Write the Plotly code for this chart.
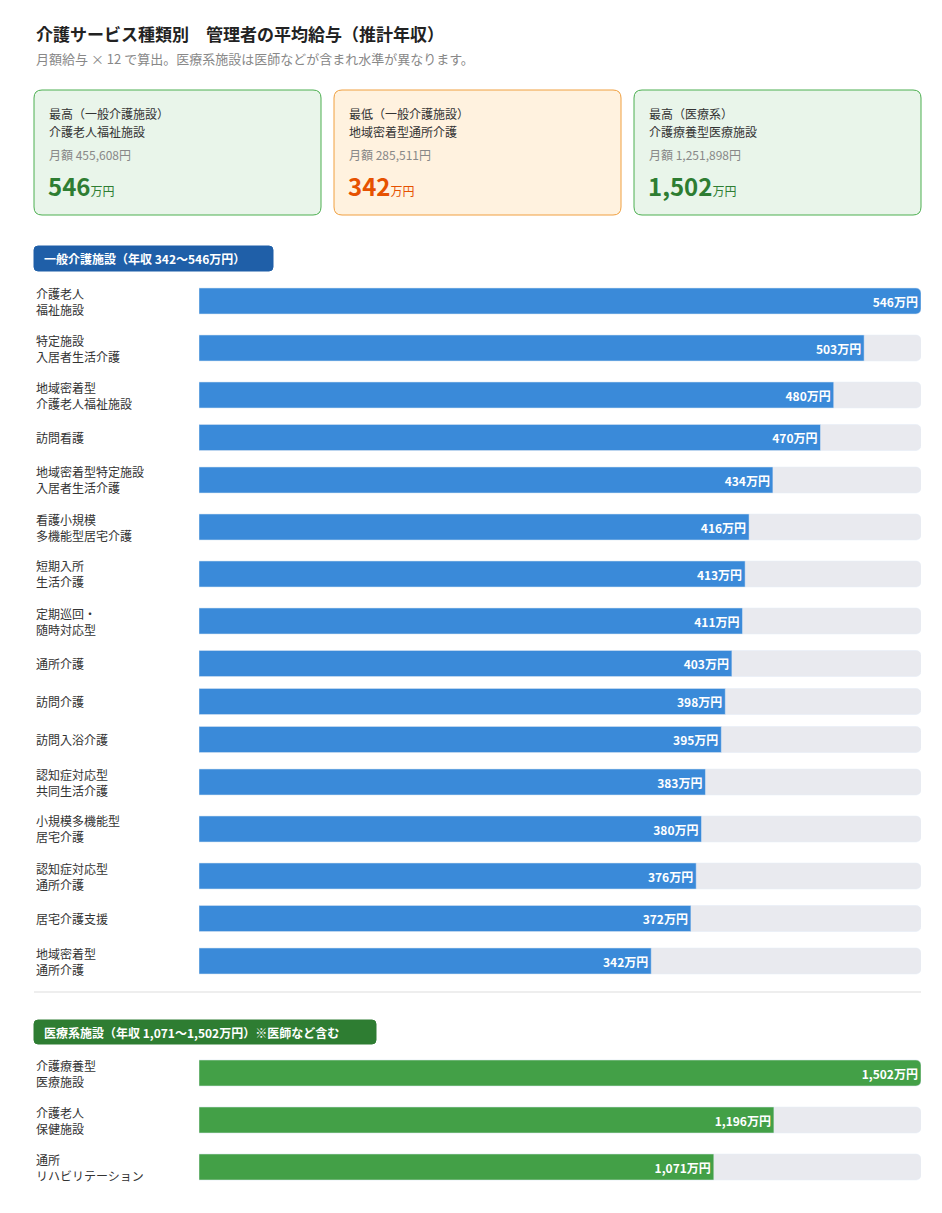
import plotly.graph_objects as go

W, H = 942, 1213
FONT = "Noto Sans CJK JP"

general_labels = ["介護老人<br>福祉施設", "特定施設<br>入居者生活介護", "地域密着型<br>介護老人福祉施設", "訪問看護",
                  "地域密着型特定施設<br>入居者生活介護", "看護小規模<br>多機能型居宅介護", "短期入所<br>生活介護",
                  "定期巡回・<br>随時対応型", "通所介護", "訪問介護", "訪問入浴介護", "認知症対応型<br>共同生活介護",
                  "小規模多機能型<br>居宅介護", "認知症対応型<br>通所介護", "居宅介護支援", "地域密着型<br>通所介護"]
general_values = [546, 503, 480, 470, 434, 416, 413, 411, 403, 398, 395, 383, 380, 376, 372, 342]
medical_labels = ["介護療養型<br>医療施設", "介護老人<br>保健施設", "通所<br>リハビリテーション"]
medical_values = [1502, 1196, 1071]
cards = [
    ("最高（一般介護施設）", "介護老人福祉施設", "月額 455,608円", "546", "green"),
    ("最低（一般介護施設）", "地域密着型通所介護", "月額 285,511円", "342", "orange"),
    ("最高（医療系）", "介護療養型医療施設", "月額 1,251,898円", "1,502", "green"),
]

def px(x): return x / W
def py(y): return 1 - y / H

def positions(labels, start):
    ys, y = [], start
    prev = None
    for lab in labels:
        half = 23.5 if "<br>" in lab else 19
        if prev is not None:
            y += prev + half
        ys.append(y); prev = half
    return ys

gy = positions(general_labels, 293)
my = positions(medical_labels, 1065)

fig = go.Figure()
def add_bars(vals, ys, axis, color):
    mx = max(vals)
    fig.add_trace(go.Bar(x=[mx] * len(vals), y=ys, orientation="h", width=26, marker=dict(color="#e9eaef", cornerradius=5),
                         xaxis=axis, hoverinfo="skip", showlegend=False))
    fig.add_trace(go.Bar(x=vals, y=ys, orientation="h", width=26, marker=dict(color=color, cornerradius=5),
                         text=[f"{v:,}万円" for v in vals], textposition="inside", insidetextanchor="end",
                         textfont=dict(color="white", size=12, family=FONT, weight="bold"),
                         xaxis=axis, showlegend=False))
add_bars(general_values, gy, "x", "#3a8ad9")
add_bars(medical_values, my, "x2", "#43a047")

dom = [px(191), px(913)]
fig.update_layout(
    width=W, height=H, margin=dict(l=0, r=0, t=0, b=0), paper_bgcolor="white", plot_bgcolor="white",
    barmode="overlay", font=dict(family=FONT),
    xaxis=dict(domain=dom, range=[0, max(general_values)], visible=False, fixedrange=True),
    xaxis2=dict(domain=dom, range=[0, max(medical_values)], visible=False, overlaying="x"),
    yaxis=dict(domain=[0, 1], range=[H, 0], visible=False),
)

shapes, ann = [], []
def rrect(x0, y0, x1, y1, r, fill, line=None):
    p = (f"M {px(x0+r)},{py(y0)} L {px(x1-r)},{py(y0)} Q {px(x1)},{py(y0)} {px(x1)},{py(y0+r)} "
         f"L {px(x1)},{py(y1-r)} Q {px(x1)},{py(y1)} {px(x1-r)},{py(y1)} L {px(x0+r)},{py(y1)} "
         f"Q {px(x0)},{py(y1)} {px(x0)},{py(y1-r)} L {px(x0)},{py(y0+r)} Q {px(x0)},{py(y0)} {px(x0+r)},{py(y0)} Z")
    shapes.append(dict(type="path", path=p, xref="paper", yref="paper", fillcolor=fill,
                       line=dict(color=line or fill, width=1), layer="below"))

def txt(x, y, s, size, color, bold=False, anchor="left"):
    ann.append(dict(x=px(x), y=py(y), xref="paper", yref="paper", text=s, showarrow=False, xanchor=anchor,
                    yanchor="middle", align="left", font=dict(size=size, color=color, family=FONT,
                                                               weight="bold" if bold else "normal")))

txt(26, 25, "介護サービス種類別　管理者の平均給与（推計年収）", 17, "#222", True)
txt(26, 50, "月額給与 × 12 で算出。医療系施設は医師などが含まれ水準が異なります。", 13, "#888")

for i, (a, b, c, big, kind) in enumerate(cards):
    x0 = 26 + i * 300
    if kind == "green":
        fill, line, col = "#e9f5ea", "#4caf50", "#2e7d32"
    else:
        fill, line, col = "#fff2df", "#f0a040", "#e65100"
    rrect(x0, 82, x0 + 287, 207, 8, fill, line)
    txt(x0 + 13, 105, a, 12, "#333")
    txt(x0 + 13, 124, b, 12, "#333")
    txt(x0 + 13, 146, c, 12, "#888")
    txt(x0 + 12, 177, f"<span style='font-size:24px'><b>{big}</b></span><span style='font-size:12px'>万円</span>", 24, col)

rrect(26, 238, 265, 263, 4, "#1f5fa8")
txt(34, 251, "一般介護施設（年収 342〜546万円）", 12, "white", True)
rrect(26, 1012, 368, 1036, 4, "#2e7d32")
txt(34, 1024, "医療系施設（年収 1,071〜1,502万円）※医師など含む", 12, "white", True)
shapes.append(dict(type="line", xref="paper", yref="paper", x0=px(26), x1=px(913), y0=py(984), y1=py(984),
                   line=dict(color="#dddddd", width=1)))

for lab, y in zip(general_labels + medical_labels, gy + my):
    txt(26, y, lab, 12, "#333")

fig.update_layout(shapes=shapes, annotations=ann)
fig.write_html("out.html")
